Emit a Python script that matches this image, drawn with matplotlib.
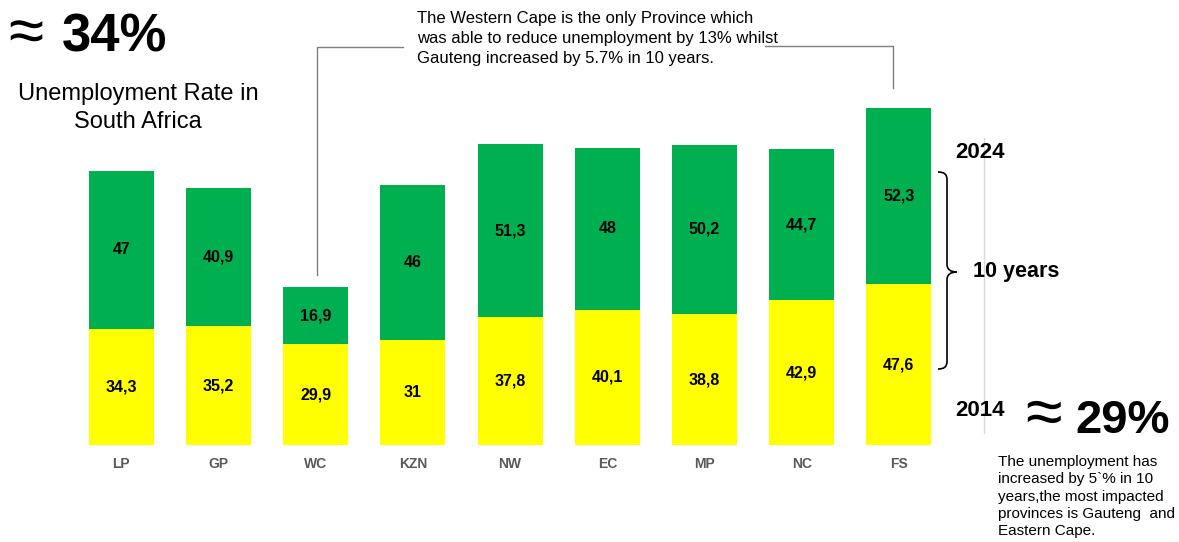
import matplotlib
matplotlib.use("Agg")
import matplotlib.pyplot as plt
from matplotlib.path import Path
from matplotlib.patches import PathPatch

plt.rcParams['font.family'] = ['Liberation Sans', 'DejaVu Sans']

# ---- data ----
provinces = ["LP", "GP", "WC", "KZN", "NW", "EC", "MP", "NC", "FS"]
rate_2014 = [34.3, 35.2, 29.9, 31.0, 37.8, 40.1, 38.8, 42.9, 47.6]
rate_2024 = [47.0, 40.9, 16.9, 46.0, 51.3, 48.0, 50.2, 44.7, 52.3]

W, H = 1179, 542
fig = plt.figure(figsize=(W / 100, H / 100), dpi=100)
ax = fig.add_axes([0, 0, 1, 1])
ax.set_axis_off()

# pixel mapping: bar centre x = 121.3 + 97.2*i ; baseline y = 445 px from top, 3.375 px/unit
x0, dx = 121.3, 97.2
base, ppu = 445.0, 3.375
ax.set_xlim((0 - x0) / dx, (W - x0) / dx)
ax.set_ylim(-(H - base) / ppu, base / ppu)

GREEN = "#00B050"
YELLOW = "#FFFF00"
xs = list(range(len(provinces)))
ax.bar(xs, rate_2014, width=0.67, color=YELLOW, linewidth=0)
ax.bar(xs, rate_2024, width=0.67, bottom=rate_2014, color=GREEN, linewidth=0)

def fmt(v):
    return f"{v:g}".replace(".", ",")

for i, (a, b) in enumerate(zip(rate_2014, rate_2024)):
    ax.text(i, a / 2, fmt(a), ha="center", va="center", fontsize=11.5,
            fontweight="bold", color="black")
    ax.text(i, a + b / 2, fmt(b), ha="center", va="center", fontsize=11.5,
            fontweight="bold", color="black")
    ax.text(i, -(464 - base) / ppu, provinces[i], ha="center", va="center",
            fontsize=10, fontweight="bold", color="#595959")

def P(x, y):
    return (x / W, 1 - y / H)

tf = fig.transFigure

def line(pts, color="#7F7F7F", lw=1.0):
    xx = [P(*p)[0] for p in pts]
    yy = [P(*p)[1] for p in pts]
    fig.add_artist(plt.Line2D(xx, yy, transform=tf, color=color, lw=lw))

# callout connectors
line([(317, 275), (317, 47), (403, 47)])
line([(765, 46), (893, 46), (893, 88)])

# light grey separator
line([(984, 138), (984, 433)], color="#D9D9D9", lw=1.0)

# curly brace
verts = [(938, 172), (944, 172), (947, 174), (947, 180),
         (947, 264),
         (947, 269), (950, 272), (957, 272),
         (950, 272), (947, 275), (947, 280),
         (947, 361),
         (947, 367), (944, 369), (938, 369)]
codes = [Path.MOVETO, Path.CURVE4, Path.CURVE4, Path.CURVE4,
         Path.LINETO,
         Path.CURVE4, Path.CURVE4, Path.CURVE4,
         Path.CURVE4, Path.CURVE4, Path.CURVE4,
         Path.LINETO,
         Path.CURVE4, Path.CURVE4, Path.CURVE4]
brace = Path([P(*v) for v in verts], codes)
fig.add_artist(PathPatch(brace, transform=tf, facecolor="none",
                         edgecolor="black", lw=1.2))

# texts
fig.text(*P(8, 36), "≈", fontsize=46, ha="left", va="center", color="black")
fig.text(*P(62, 52), "34%", fontsize=38, fontweight="bold", ha="left",
         va="baseline", color="black")
fig.text(*P(138, 100), "Unemployment Rate in", fontsize=17, ha="center",
         va="baseline", color="black")
fig.text(*P(138, 128), "South Africa", fontsize=17, ha="center",
         va="baseline", color="black")

fig.text(*P(417, 11),
         "The Western Cape is the only Province which\n"
         "was able to reduce unemployment by 13% whilst\n"
         "Gauteng increased by 5.7% in 10 years.",
         fontsize=12, ha="left", va="top", linespacing=1.4, color="black")

fig.text(*P(955, 152), "2024", fontsize=16, fontweight="bold", ha="left",
         va="center", color="black")
fig.text(*P(973, 272), "10 years", fontsize=15.5, fontweight="bold",
         ha="left", va="center", color="black")
fig.text(*P(955, 410), "2014", fontsize=16, fontweight="bold", ha="left",
         va="center", color="black")

fig.text(*P(1025, 417), "≈", fontsize=48, ha="left", va="center", color="black")
fig.text(*P(1075, 433), "29%", fontsize=34, fontweight="bold", ha="left",
         va="baseline", color="black")

fig.text(*P(998, 455),
         "The unemployment has\n"
         "increased by 5`% in 10\n"
         "years,the most impacted\n"
         "provinces is Gauteng  and\n"
         "Eastern Cape.",
         fontsize=11, ha="left", va="top", linespacing=1.3, color="black")

fig.savefig("out.png", dpi=100, facecolor="white")
